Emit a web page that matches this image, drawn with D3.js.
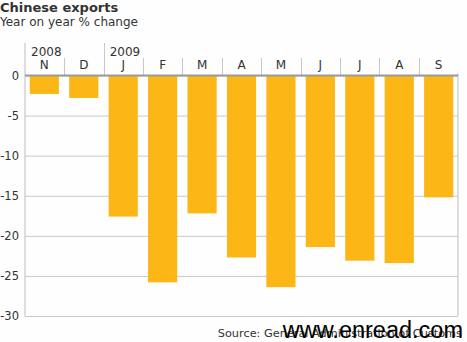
<!DOCTYPE html>
<html><head><meta charset="utf-8">
<script src="https://cdn.jsdelivr.net/npm/d3@7"></script>
<style>
html,body{margin:0;padding:0;background:#fdfefd;}
svg{display:block;}
text{font-family:"DejaVu Sans",Verdana,sans-serif;fill:#333;}
</style></head>
<body>
<svg id="c" width="467" height="342"></svg>
<script>
const months = ["N","D","J","F","M","A","M","J","J","A","S"];
const years = [{label:"2008", index:0},{label:"2009", index:2}];
const values = [-2.3,-2.8,-17.6,-25.8,-17.2,-22.7,-26.4,-21.4,-23.1,-23.4,-15.2];
const yTicks = [0,-5,-10,-15,-20,-25,-30];

const svg = d3.select("#c");
const L = 25, R = 458, T = 75.5, B = 316;
const idx = d3.range(months.length);
const xb = d3.scaleBand().domain(idx).range([L,R]).paddingInner(0.26).paddingOuter(0.12);
const xs = d3.scaleLinear().domain([0, months.length]).range([L,R]);
const y = d3.scaleLinear().domain([-30,0]).range([B,T]);

svg.append("rect").attr("width",467).attr("height",342).attr("fill","#fdfefd");

// grid
const yAxis = d3.axisLeft(y).tickValues(yTicks).tickSize(-(R-L)).tickPadding(6).tickFormat(d=>d);
const gy = svg.append("g").attr("transform",`translate(${L},0)`).call(yAxis);
gy.select(".domain").remove();
gy.selectAll(".tick line").attr("stroke","#c8c8c8").attr("stroke-width",1);
gy.selectAll(".tick text").style("font-size","11.5px").attr("fill","#333").attr("x",-6);

// bars
svg.append("g").selectAll("rect").data(values).join("rect")
  .attr("x",(d,i)=>xb(i)).attr("width",xb.bandwidth())
  .attr("y",y(0)).attr("height",d=>y(d)-y(0))
  .attr("fill","#fcb716");

// left & right axis lines
svg.append("line").attr("x1",L).attr("x2",L).attr("y1",43).attr("y2",B).attr("stroke","#bdbdbd");
svg.append("line").attr("x1",R).attr("x2",R).attr("y1",T-2).attr("y2",B).attr("stroke","#bdbdbd");
// separators
const seps = d3.range(1, months.length);
svg.append("g").selectAll("line").data(seps).join("line")
  .attr("x1",d=>Math.round(xs(d))+0.5).attr("x2",d=>Math.round(xs(d))+0.5)
  .attr("y1",d=>years.some(yy=>yy.index===d)?43:58).attr("y2",T)
  .attr("stroke","#c8c8c8");
// zero line
svg.append("line").attr("x1",L).attr("x2",R).attr("y1",y(0)).attr("y2",y(0)).attr("stroke","#9a9a9a").attr("stroke-width",2.2);

// top axis month labels
const xAxis = d3.axisTop(xb).tickSize(0).tickPadding(0).tickFormat(i=>months[i]);
const gx = svg.append("g").attr("transform",`translate(0,69)`).call(xAxis);
gx.select(".domain").remove();
gx.selectAll(".tick text").style("font-size","12px").attr("fill","#333").attr("dy",0);

// years
svg.append("g").selectAll("text").data(years).join("text")
  .attr("x",d=>xs(d.index)+6).attr("y",55.5).style("font-size","12px").text(d=>d.label);

// titles
svg.append("text").attr("x",0).attr("y",12).style("font-size","13px").style("font-weight","bold").text("Chinese exports");
svg.append("text").attr("x",0).attr("y",26).style("font-size","12px").text("Year on year % change");

svg.append("text").attr("x",462).attr("y",337).attr("text-anchor","end").style("font-size","11.3px").attr("fill","#444").text("Source: General Administration of Customs");
svg.append("text").attr("x",463).attr("y",338).attr("text-anchor","end")
  .style("font-family","'Liberation Sans',Arial,sans-serif").style("font-size","23.5px").style("fill","#000").text("www.enread.com");
</script>
</body></html>
